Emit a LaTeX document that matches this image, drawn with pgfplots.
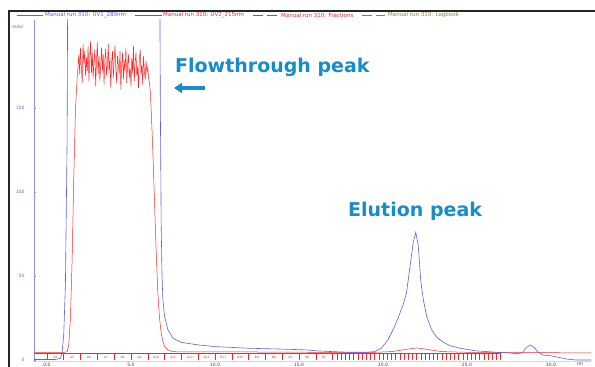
\documentclass[border=0pt]{standalone}
\usepackage{pgfplots}
\pgfplotsset{compat=1.18}
\usepackage{fontspec}
\setmainfont{DejaVu Sans}
\usetikzlibrary{arrows.meta}
\definecolor{uvblue}{RGB}{95,95,235}
\definecolor{uvred}{RGB}{255,35,35}
\definecolor{annot}{RGB}{22,140,200}
\definecolor{logbrown}{RGB}{150,120,70}
\begin{document}
\begin{tikzpicture}[x=1pt,y=1pt]
\useasboundingbox (0,0) rectangle (595,367);
% frame
\draw[line width=2.5pt, black!85] (9,0) -- (9,356) -- (596,356);
% legend
\draw[uvblue, line width=0.6pt] (17,352) -- (43,352);
\node[anchor=west, inner sep=0pt, text=uvblue, font=\fontsize{5.5}{6}\selectfont] at (45,352) {Manual run 310: UV1\_280nm};
\draw[uvred, line width=0.6pt] (135,352) -- (162,352);
\node[anchor=west, inner sep=0pt, text=uvred, font=\fontsize{5.5}{6}\selectfont] at (163,352) {Manual run 310: UV2\_215nm};
\draw[uvred, line width=0.6pt, dash pattern=on 10pt off 4pt] (253,352) -- (280,352);
\node[anchor=west, inner sep=0pt, text=uvred, font=\fontsize{5.5}{6}\selectfont] at (281,352) {Manual run 310: Fractions};
\draw[logbrown, line width=0.6pt, dash pattern=on 10pt off 4pt] (362,352) -- (385,352);
\node[anchor=west, inner sep=0pt, text=logbrown, font=\fontsize{5.5}{6}\selectfont] at (388,352) {Manual run 310: Logbook};
\node[anchor=west, inner sep=0pt, text=uvblue, font=\fontsize{4.5}{5}\selectfont] at (12,340) {mAU};
\begin{axis}[
  at={(34pt,5.3pt)}, anchor=south west,
  scale only axis, width=558pt, height=341.7pt,
  xmin=-0.77, xmax=32.44, ymin=-1, ymax=202.4,
  axis x line*=bottom, axis y line*=left,
  x axis line style={draw=gray!30},
  y axis line style={draw=uvblue!70, line width=0.6pt},
  ytick={0,50,100,150},
  xtick={0,5,10,15,20,25,30},
  xticklabels={0.0,5.0,10.0,15.0,20.0,25.0,30.0},
  ytick style={draw=uvblue!70},
  xtick style={draw=none},
  major tick length=2pt,
  yticklabel style={font=\fontsize{4.5}{5}\selectfont, text=uvblue, xshift=-6pt},
  xticklabel style={font=\fontsize{4.5}{5}\selectfont, text=gray!50!black, yshift=2.2pt},
  /pgf/number format/assume math mode=true,
  clip=true,
]
% fraction ticks
\addplot[draw=uvred, line width=0.5pt, ycomb] coordinates {
(0,4)(1,4)(2,4)(3,4)(4,4)(5,4)(6,4)(7,4)(8,4)(9,4)(10,4)(11,4)(12,4)(13,4)(14,4)(15,4)(16,4)(17,4)
(17.25,4)(17.5,4)(17.75,4)(18,4)(18.25,4)(18.5,4)(18.75,4)(19,4)(19.25,4)(19.5,4)(19.75,4)(20,4)
(20.25,4)(20.5,4)(20.75,4)(21,4)(21.25,4)(21.5,4)(21.75,4)(22,4)(22.25,4)(22.5,4)(22.75,4)(23,4)
(23.25,4)(23.5,4)(23.75,4)(24,4)(24.25,4)(24.5,4)(24.75,4)(25,4)(25.25,4)(25.5,4)(25.75,4)(26,4)
(26.25,4)(26.5,4)(26.75,4)(27,4)};
\addplot[draw=uvred, line width=0.4pt] coordinates {(-0.7,4)(27,4)};
% fraction labels
\foreach \lab/\xx in {A4/0.5,A5/1.5,A6/2.5,A7/3.5,A8/4.5,A9/5.5,A10/6.5,A11/7.5,A12/8.5,B12/9.5,B11/10.5,B10/11.5,B9/12.5,B8/13.5,B7/14.5,B6/15.5,B5/16.5}{
  \edef\tmp{\noexpand\node[text=uvred, font=\noexpand\fontsize{3}{3}\noexpand\selectfont, inner sep=0pt] at (axis cs:\xx,1.6) {\lab};}\tmp
}
% UV2 215 nm (red)
\addplot[uvred, line width=0.5pt] coordinates {
(-0.77,4.5)(0.5,4.5)(1.0,4.5)(1.2,5)(1.3,9)(1.4,25)(1.5,60)(1.6,110)(1.7,150)(1.8,168)(1.85,175)
(1.90,182)(1.95,170)(2.00,186)(2.05,174)(2.10,165)(2.15,188)(2.20,176)(2.25,184)(2.30,169)(2.35,180)
(2.40,172)(2.45,187)(2.50,166)(2.55,179)(2.60,190)(2.65,171)(2.70,183)(2.75,168)(2.80,177)(2.85,185)
(2.90,163)(2.95,178)(3.00,189)(3.05,170)(3.10,181)(3.15,166)(3.20,175)(3.25,186)(3.30,172)(3.35,182)
(3.40,164)(3.45,179)(3.50,185)(3.55,169)(3.60,176)(3.65,188)(3.70,171)(3.75,180)(3.80,162)(3.85,177)
(3.90,184)(3.95,168)(4.00,179)(4.05,187)(4.10,173)(4.15,165)(4.20,181)(4.25,176)(4.30,170)(4.35,184)
(4.40,161)(4.45,175)(4.50,183)(4.55,167)(4.60,178)(4.65,172)(4.70,186)(4.75,165)(4.80,176)(4.85,182)
(4.90,168)(4.95,174)(5.00,163)(5.05,180)(5.10,171)(5.15,187)(5.20,166)(5.25,177)(5.30,183)(5.35,169)
(5.40,175)(5.45,162)(5.50,179)(5.55,185)(5.60,170)(5.65,176)(5.70,164)(5.75,181)(5.80,172)(5.85,167)
(5.90,178)(5.95,171)(6.00,174)(6.05,168)(6.10,165)(6.15,160)(6.2,150)(6.3,125)(6.4,95)(6.5,65)
(6.6,40)(6.7,25)(6.8,16)(6.9,11)(7.0,8)(7.2,6)(7.5,5)(8,4.8)(12,4.8)(16,4.6)(19.5,4.6)(20.5,5)
(21.5,6.5)(22,7.2)(22.5,6.5)(23.5,5)(25,4.6)(28,4.5)(32.4,4.2)};
% UV1 280 nm (blue)
\addplot[uvblue, line width=0.6pt] coordinates {
(-0.77,0.3)(0.5,0.3)(0.8,1)(0.9,4)(1.0,15)(1.1,45)(1.2,130)(1.25,260)(1.3,300)(6.5,300)(6.7,260)
(6.75,150)(6.8,80)(6.85,50)(6.9,36)(7.0,26)(7.2,18)(7.5,13)(8.0,10.5)(9,9)(10,8)(12,7)(14,6.5)
(15.5,6)(16,5.5)(17,5)(18,4.6)(19,4.6)(19.5,5)(19.9,7)(20.3,12)(20.6,18)(20.9,25)(21.2,33)(21.4,40)
(21.6,55)(21.8,70)(21.95,76)(22.1,68)(22.25,47)(22.4,36)(22.6,26)(22.9,18)(23.2,13.5)(23.6,10.5)
(24,8.5)(24.6,7)(25.5,5.5)(26.5,4.8)(27.5,4.2)(28,3.8)(28.3,4.2)(28.5,7)(28.75,9)(29,7.5)(29.2,5)
(29.5,3)(30,2.5)(30.5,1.5)(31,0.5)(31.5,0)(32.4,0)};
\end{axis}
\node[anchor=base, inner sep=0pt, text=gray!50!black, font=\fontsize{4.5}{5}\selectfont] at (580,1.5) {ml};
% annotations
\node[anchor=base west, inner sep=0pt, text=annot, font=\fontsize{19}{22}\selectfont\bfseries] at (175,294) {Flowthrough peak};
\draw[annot, line width=3.2pt, -{Triangle[length=8pt,width=10pt]}] (205,279) -- (174,279);
\node[anchor=base west, inner sep=0pt, text=annot, font=\fontsize{19}{22}\selectfont\bfseries] at (348,150) {Elution peak};
\end{tikzpicture}
\end{document}
